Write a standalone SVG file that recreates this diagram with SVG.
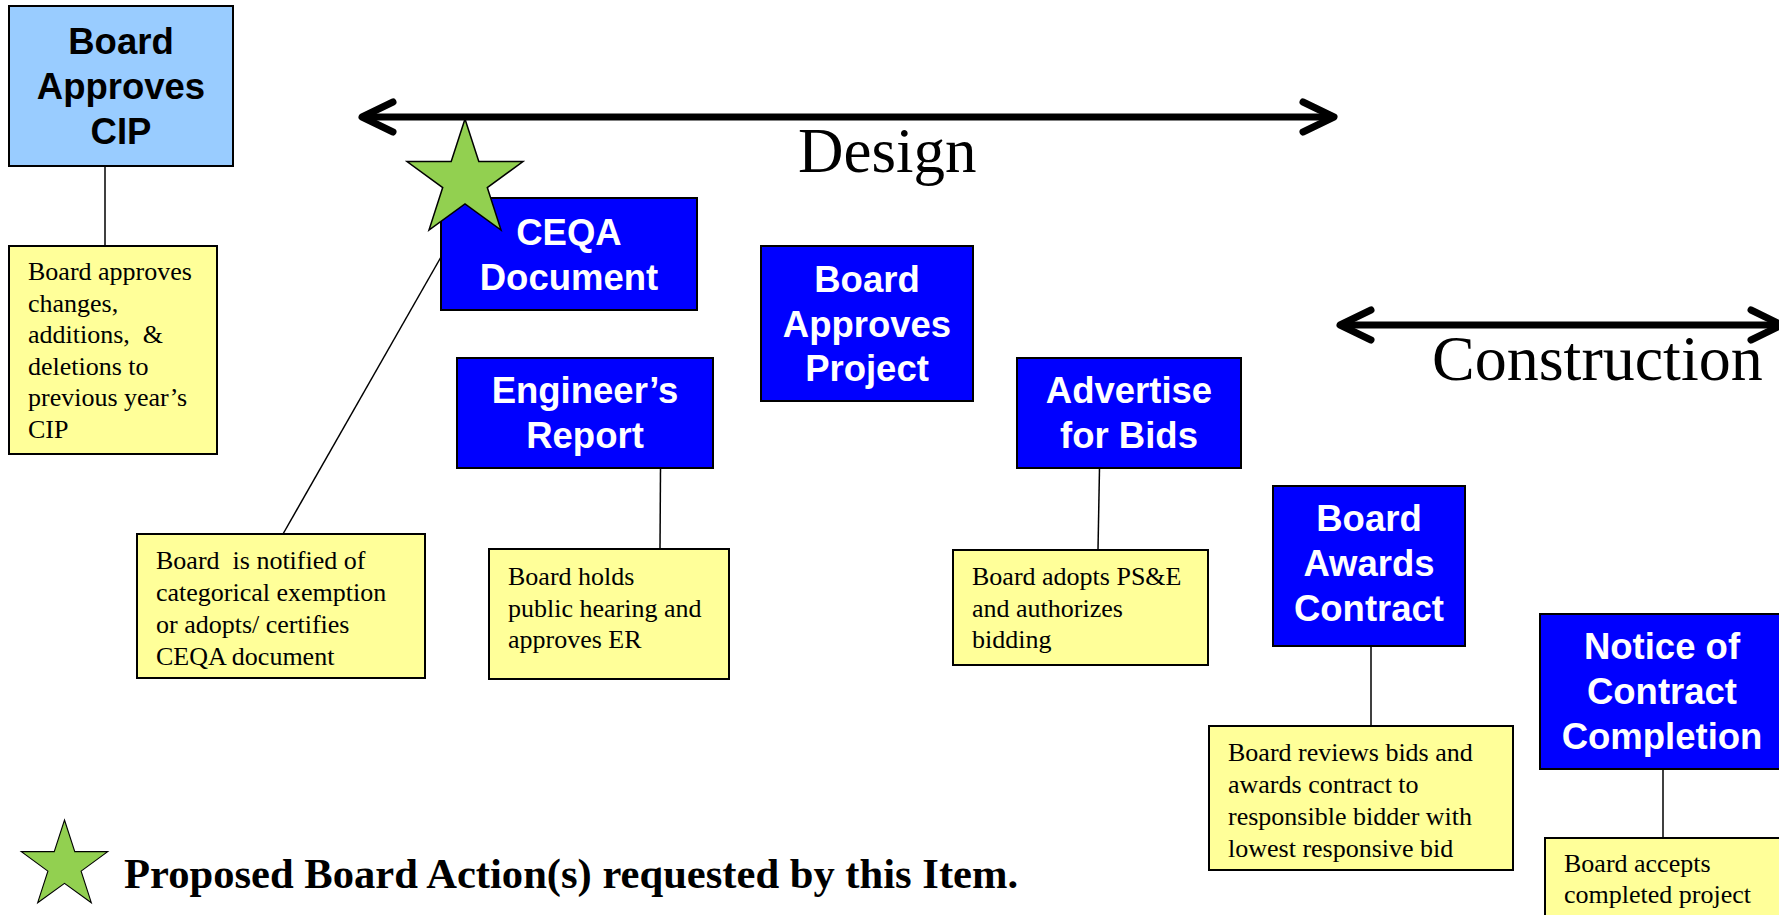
<svg xmlns="http://www.w3.org/2000/svg" xmlns:xlink="http://www.w3.org/1999/xlink" width="1779" height="915" viewBox="0 0 1779 915">
<style>
.step{fill:#0000FF;stroke:#000;stroke-width:2}
.cip{fill:#99CCFF;stroke:#000;stroke-width:2}
.note{fill:#FFFF99;stroke:#000;stroke-width:2}
.st{font-family:"Liberation Sans",Arial,sans-serif;font-weight:bold;font-size:36.5px;fill:#fff;text-anchor:middle}
.stk{fill:#000}
.nt{font-family:"Liberation Serif","Times New Roman",serif;font-size:26px;fill:#000}
.big{font-family:"Liberation Serif","Times New Roman",serif;font-size:63px;fill:#000}
.leg{font-family:"Liberation Serif","Times New Roman",serif;font-size:42.6px;font-weight:bold;fill:#000}
.conn{stroke:#000;stroke-width:1.5;fill:none}
.span{stroke:#000;stroke-width:7;fill:none}
</style>
<defs>
<marker id="chev" markerUnits="userSpaceOnUse" viewBox="-40 -20 45 40" markerWidth="45" markerHeight="40" refX="0" refY="0" orient="auto-start-reverse" overflow="visible">
<path d="M-31,-15 L0,0 L-31,15" fill="none" stroke="#000" stroke-width="7" stroke-linecap="round" stroke-linejoin="round"/>
</marker>
<path id="star" d="M0,0 L13.8,42.5 L58,42.5 L22.3,68.6 L36,111 L0,85 L-36,111 L-22.3,68.6 L-58,42.5 L-13.8,42.5 Z" fill="#92D050" stroke="#000" stroke-width="1.5" stroke-linejoin="miter"/>
</defs>
<rect width="1779" height="915" fill="#fff"/>

<g id="phases">
<line class="span" x1="362" y1="117" x2="1334" y2="117" marker-start="url(#chev)" marker-end="url(#chev)"/>
<text class="big" x="798" y="172">Design</text>
<line class="span" x1="1340" y1="325" x2="1782" y2="325" marker-start="url(#chev)" marker-end="url(#chev)"/>
<text class="big" x="1432" y="380" style="font-size:64px">Construction</text>
</g>

<g id="connectors">
<line class="conn" x1="105" y1="166" x2="105" y2="246"/>
<line class="conn" x1="441" y1="257" x2="283" y2="534"/>
<line class="conn" x1="660.5" y1="468" x2="660" y2="549"/>
<line class="conn" x1="1099.5" y1="468" x2="1098" y2="550"/>
<line class="conn" x1="1371" y1="646" x2="1371" y2="726"/>
<line class="conn" x1="1663" y1="769" x2="1663" y2="838"/>
</g>

<g id="board-approves-cip">
<rect class="cip" x="9" y="6" width="224" height="160"/>
<text class="st stk" x="121"><tspan x="121" y="54">Board</tspan><tspan x="121" y="99">Approves</tspan><tspan x="121" y="144">CIP</tspan></text>
</g>
<g id="note-cip">
<rect class="note" x="9" y="246" width="208" height="208"/>
<text class="nt" xml:space="preserve"><tspan x="28" y="280">Board approves</tspan><tspan x="28" y="312">changes,</tspan><tspan x="28" y="343">additions,  &amp;</tspan><tspan x="28" y="375">deletions to</tspan><tspan x="28" y="406">previous year’s</tspan><tspan x="28" y="438">CIP</tspan></text>
</g>

<g id="ceqa-document">
<rect class="step" x="441" y="198" width="256" height="112"/>
<text class="st"><tspan x="569" y="245">CEQA</tspan><tspan x="569" y="290">Document</tspan></text>
</g>
<g id="note-ceqa">
<rect class="note" x="137" y="534" width="288" height="144"/>
<text class="nt" xml:space="preserve"><tspan x="156" y="569">Board  is notified of</tspan><tspan x="156" y="601">categorical exemption</tspan><tspan x="156" y="633">or adopts/ certifies</tspan><tspan x="156" y="665">CEQA document</tspan></text>
</g>

<g id="engineers-report">
<rect class="step" x="457" y="358" width="256" height="110"/>
<text class="st"><tspan x="585" y="403">Engineer’s</tspan><tspan x="585" y="448">Report</tspan></text>
</g>
<g id="note-er">
<rect class="note" x="489" y="549" width="240" height="130"/>
<text class="nt"><tspan x="508" y="585">Board holds</tspan><tspan x="508" y="617">public hearing and</tspan><tspan x="508" y="648">approves ER</tspan></text>
</g>

<g id="board-approves-project">
<rect class="step" x="761" y="246" width="212" height="155"/>
<text class="st"><tspan x="867" y="292">Board</tspan><tspan x="867" y="337">Approves</tspan><tspan x="867" y="381">Project</tspan></text>
</g>

<g id="advertise-for-bids">
<rect class="step" x="1017" y="358" width="224" height="110"/>
<text class="st"><tspan x="1129" y="403">Advertise</tspan><tspan x="1129" y="448">for Bids</tspan></text>
</g>
<g id="note-bids">
<rect class="note" x="953" y="550" width="255" height="115"/>
<text class="nt"><tspan x="972" y="585">Board adopts PS&amp;E</tspan><tspan x="972" y="617">and authorizes</tspan><tspan x="972" y="648">bidding</tspan></text>
</g>

<g id="board-awards-contract">
<rect class="step" x="1273" y="486" width="192" height="160"/>
<text class="st"><tspan x="1369" y="531">Board</tspan><tspan x="1369" y="576">Awards</tspan><tspan x="1369" y="621">Contract</tspan></text>
</g>
<g id="note-award">
<rect class="note" x="1209" y="726" width="304" height="144"/>
<text class="nt"><tspan x="1228" y="761">Board reviews bids and</tspan><tspan x="1228" y="793">awards contract to</tspan><tspan x="1228" y="825">responsible bidder with</tspan><tspan x="1228" y="857">lowest responsive bid</tspan></text>
</g>

<g id="notice-of-completion">
<rect class="step" x="1540" y="614" width="246" height="155"/>
<text class="st"><tspan x="1662" y="659">Notice of</tspan><tspan x="1662" y="704">Contract</tspan><tspan x="1662" y="749">Completion</tspan></text>
</g>
<g id="note-completion">
<rect class="note" x="1545" y="838" width="250" height="100"/>
<text class="nt"><tspan x="1564" y="872">Board accepts</tspan><tspan x="1564" y="903">completed project</tspan></text>
</g>

<g id="action-star">
<use xlink:href="#star" href="#star" x="465" y="119"/>
</g>

<g id="legend">
<use xlink:href="#star" href="#star" transform="translate(64.5,820) scale(0.745)"/>
<text class="leg" x="124" y="888">Proposed Board Action(s) requested by this Item.</text>
</g>
</svg>
